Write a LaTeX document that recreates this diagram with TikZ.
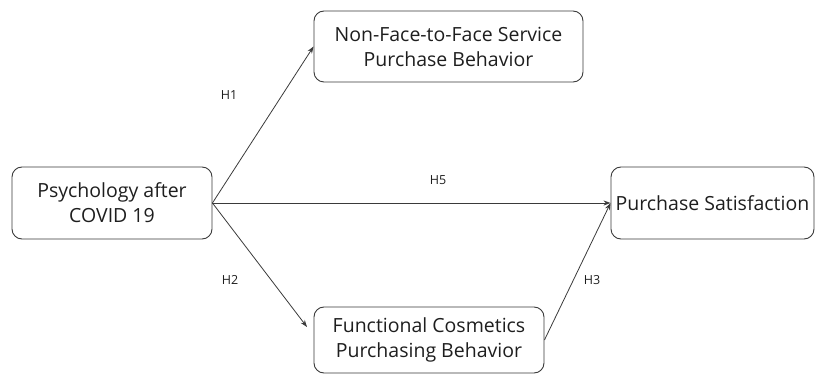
\documentclass[tikz,border=0pt]{standalone}
\usepackage{fontspec}
\setmainfont{Open Sans}
\usetikzlibrary{arrows.meta}
\definecolor{ink}{HTML}{1E1E1E}
\definecolor{edge}{HTML}{3A3A3A}
\begin{document}
\begin{tikzpicture}[x=1pt,y=-1pt,
  box/.style={draw=edge,line width=0.9pt,rounded corners=10pt,inner sep=0pt,
    align=center,text=ink,font=\fontsize{19.5}{25}\selectfont},
  link/.style={draw=edge,line width=0.8pt,-{Stealth[length=7pt,width=5pt]}},
  hyp/.style={text=ink,font=\fontsize{12.5}{14}\selectfont,inner sep=0pt}]
\useasboundingbox (0,0) rectangle (815,374);
% constructs
\node[box,minimum width=200pt,minimum height=72pt] (psy) at (112,203) {Psychology after\\COVID 19};
\node[box,minimum width=269pt,minimum height=71pt] (nf) at (448.5,46.5) {Non-Face-to-Face Service\\Purchase Behavior};
\node[box,minimum width=230pt,minimum height=66pt] (fc) at (429,340) {Functional Cosmetics\\Purchasing Behavior};
\node[box,minimum width=203pt,minimum height=72pt] (ps) at (712.5,203) {Purchase Satisfaction};
\coordinate (h2end) at (307,327);
% paths
\draw[link] (psy.east) -- (nf.west);
\draw[link] (psy.east) -- (h2end);
\draw[link] (psy.east) -- (ps.west);
\draw[link] (fc.east) -- (ps.west);
% hypothesis labels
\node[hyp] (h1) at (229,95) {H1};
\node[hyp] (h2) at (230,280) {H2};
\node[hyp] (h5) at (438,180) {H5};
\node[hyp] (h3) at (592,280) {H3};
\end{tikzpicture}
\end{document}
